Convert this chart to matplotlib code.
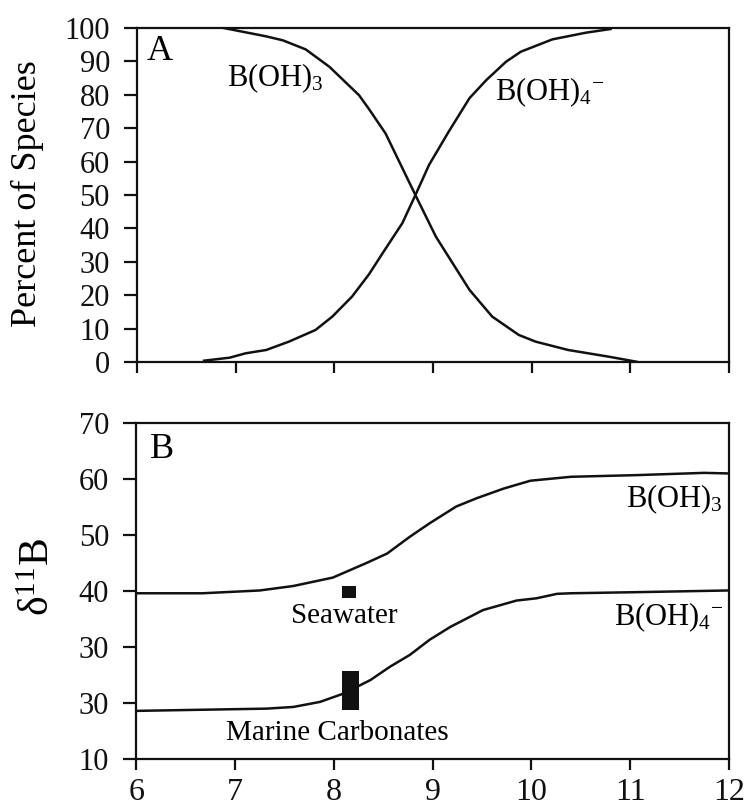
import numpy as np
import matplotlib
matplotlib.use("Agg")
import matplotlib.pyplot as plt

plt.rcParams["font.family"] = ["Liberation Serif", "DejaVu Serif"]
plt.rcParams["mathtext.fontset"] = "custom"
plt.rcParams["mathtext.rm"] = "Liberation Serif"
plt.rcParams["mathtext.it"] = "Liberation Serif:italic"

# ── Panel A: species distribution vs pH ──
ph_boh3 = [6.88, 7.31, 7.48, 7.71, 7.95, 8.25, 8.35, 8.52, 8.83, 9.03,
           9.37, 9.60, 9.87, 10.04, 10.37, 10.78, 11.06]
pct_boh3 = [100, 97.5, 96.3, 93.6, 88.4, 79.9, 75.8, 68.4, 49.5, 37.5,
            21.6, 13.6, 8.1, 6.1, 3.6, 1.6, 0.1]
ph_boh4 = [6.68, 6.94, 7.10, 7.31, 7.54, 7.81, 7.98, 8.18, 8.35, 8.49,
           8.69, 8.83, 8.96, 9.16, 9.37, 9.54, 9.74, 9.89, 10.21, 10.55, 10.80]
pct_boh4 = [0.4, 1.3, 2.6, 3.6, 6.1, 9.6, 13.6, 19.6, 26.2, 32.6,
            41.6, 50.5, 59.0, 69.0, 79.0, 84.4, 89.9, 92.9, 96.6, 98.6, 99.7]

# ── Panel B: delta11B vs pH ──
ph_d_boh3 = [6.0, 6.67, 7.25, 7.59, 7.99, 8.33, 8.54, 8.77, 8.97, 9.24,
             9.45, 9.72, 9.99, 10.40, 11.07, 11.75, 11.99]
d_boh3 = [39.6, 39.6, 40.1, 40.9, 42.4, 45.0, 46.7, 49.7, 52.1, 55.1,
          56.6, 58.3, 59.7, 60.4, 60.7, 61.1, 61.0]
ph_d_boh4 = [6.0, 7.32, 7.59, 7.86, 8.10, 8.37, 8.57, 8.77, 8.97, 9.18,
             9.51, 9.85, 10.05, 10.26, 10.40, 11.07, 11.99]
d_boh4 = [18.6, 19.0, 19.3, 20.2, 21.7, 24.1, 26.5, 28.6, 31.3, 33.6,
          36.6, 38.3, 38.7, 39.5, 39.6, 39.8, 40.1]

seawater_ph = [8.155]
seawater_lo, seawater_hi = [38.75], [40.9]
carb_ph = [8.17]
carb_lo, carb_hi = [18.8], [25.7]

x_ticks = [6, 7, 8, 9, 10, 11, 12]
a_yticks = list(range(0, 101, 10))
b_yticks = [10, 20, 30, 40, 50, 60, 70]
b_yticklabels = ["10", "30", "30", "40", "50", "60", "70"]

BOH3 = r"B(OH)$_3$"
BOH4 = r"B(OH)$_4{}^{-}$"

fig = plt.figure(figsize=(7.46, 8.05), dpi=100, facecolor="white")
ax1 = fig.add_axes([0.1836, 0.5503, 0.7936, 0.4149])
ax2 = fig.add_axes([0.1826, 0.0571, 0.7946, 0.4174])

for ax in (ax1, ax2):
    for sp in ax.spines.values():
        sp.set_linewidth(1.6)
        sp.set_color("#111111")
    ax.tick_params(direction="out", length=9.5, width=1.6, colors="#111111",
                   labelsize=22, pad=10)
    ax.set_xlim(6, 12)
    ax.set_xticks(x_ticks)

lw = 1.8
# Panel A
ax1.plot(ph_boh3, pct_boh3, color="#111111", lw=lw)
ax1.plot(ph_boh4, pct_boh4, color="#111111", lw=lw)
ax1.set_ylim(0, 100)
ax1.set_yticks(a_yticks)
ax1.tick_params(axis="x", labelbottom=False, length=8)
ax1.text(6.1, 90.4, "A", fontsize=26, ha="left", va="baseline")
ax1.text(6.91, 82.6, BOH3, fontsize=22, ha="left", va="baseline")
ax1.text(9.63, 78.4, BOH4, fontsize=22, ha="left", va="baseline")
ax1.text(-0.185, 0.503, "Percent of Species", transform=ax1.transAxes,
         rotation=90, fontsize=26, ha="center", va="center")

# Panel B
ax2.plot(ph_d_boh3, d_boh3, color="#111111", lw=lw)
ax2.plot(ph_d_boh4, d_boh4, color="#111111", lw=lw)
ax2.bar(seawater_ph, np.subtract(seawater_hi, seawater_lo), bottom=seawater_lo,
        width=0.135, color="#111111", zorder=3)
ax2.bar(carb_ph, np.subtract(carb_hi, carb_lo), bottom=carb_lo,
        width=0.175, color="#111111", zorder=3)
ax2.set_ylim(10, 70)
ax2.set_yticks(b_yticks)
ax2.set_yticklabels(b_yticklabels)
ax2.tick_params(axis="x", length=8, labelsize=23, pad=6)
ax2.text(6.14, 63.75, "B", fontsize=26, ha="left", va="baseline")
ax2.text(11.94, 55.05, BOH3, fontsize=22, ha="right", va="baseline")
ax2.text(11.95, 33.9, BOH4, fontsize=22, ha="right", va="baseline")
ax2.text(7.57, 34.3, "Seawater", fontsize=21, ha="left", va="baseline")
ax2.text(6.91, 13.4, "Marine Carbonates", fontsize=21, ha="left", va="baseline")
ax2.text(-0.165, 0.54, r"δ$^{11}$B", transform=ax2.transAxes,
         rotation=90, fontsize=30, ha="center", va="center")

fig.savefig("out.png", dpi=100, facecolor="white")
